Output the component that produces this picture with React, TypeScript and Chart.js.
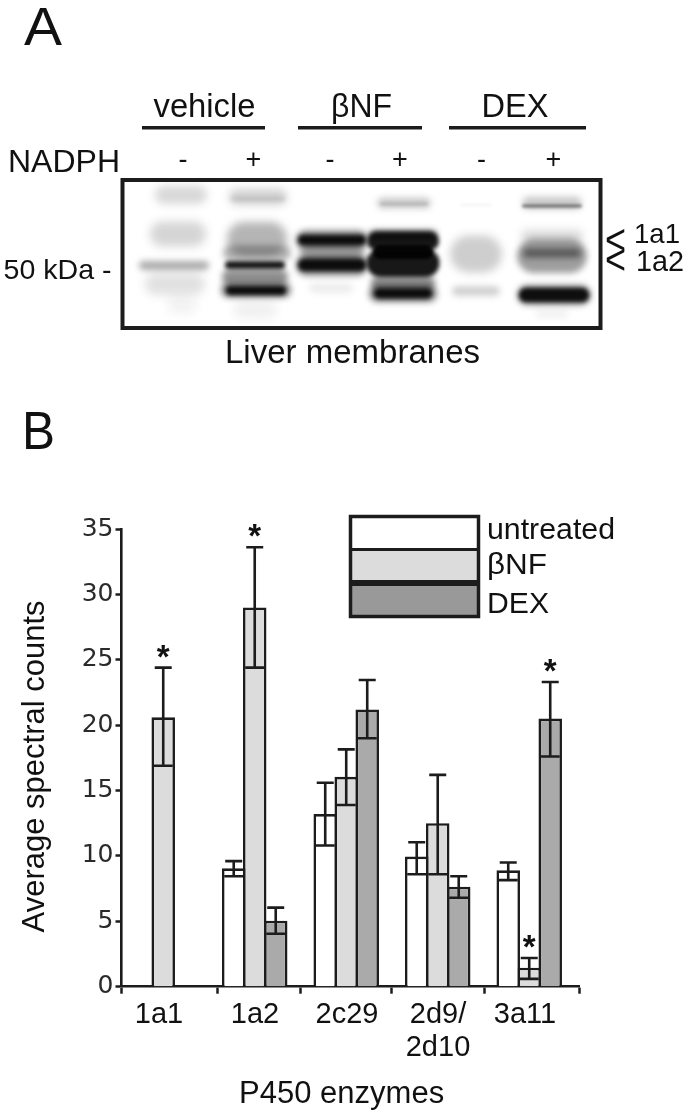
import React, { useEffect, useRef } from "react";
import { Chart, registerables } from "chart.js";

Chart.register(...registerables);

// ---- Panel B data ----
const categories: (string | string[])[] = ["1a1", "1a2", "2c29", ["2d9/", "2d10"], "3a11"];
const groupPositions = [0, 1, 2, 3, 4];
const untreated = [0, 9.05, 13.2, 9.95, 8.9];
const untreatedHigh = [null, 9.6, 15.6, 11.05, 9.5];
const untreatedLow = [null, 8.45, 10.8, 8.6, 8.15];
const bnf = [20.6, 29.0, 16.05, 12.5, 1.45];
const bnfHigh = [24.4, 33.6, 18.15, 16.2, 2.2];
const bnfLow = [16.9, 24.4, 13.9, 8.6, 0.6];
const dex = [0, 5.05, 21.2, 7.65, 20.5];
const dexHigh = [null, 6.05, 23.45, 8.45, 23.3];
const dexLow = [null, 4.05, 19.0, 6.8, 17.6];
const yTicks = [0, 5, 10, 15, 20, 25, 30, 35];
// group boundaries (tick marks) and label centres along the x axis
const xBoundaries = [-0.456, 0.588, 1.495, 2.49, 3.506, 4.544];
const xLabelCentres = [-0.046, 1.003, 2.008, 3.003, 3.954];
// [dataset index, group index] of each significance star
const stars: [number, number][] = [[1, 0], [1, 1], [1, 4], [2, 4]];

// ---- Panel A content ----
const lanes = [183, 253.5, 330, 400, 481.5, 553.5];
const laneSigns = ["-", "+", "-", "+", "-", "+"];
// cx, cy, w, h, alpha, blur of each immunoblot band
const blotBands: number[][] = [
  // vehicle -
  [181, 195, 52, 18, 0.17, 4], [178, 234, 56, 25, 0.18, 5], [174, 265.5, 70, 9, 0.36, 3],
  [175, 284, 60, 22, 0.13, 5], [182, 305, 30, 18, 0.05, 4],
  // vehicle +
  [258, 197, 58, 16, 0.2, 4], [258, 199, 54, 3, 0.15, 2],
  [257, 239, 60, 34, 0.32, 4], [257, 253, 68, 15, 0.32, 3],
  [255, 277, 66, 16, 0.48, 3], [255, 265, 60, 8, 1, 2],
  [256, 290, 70, 15, 0.55, 3], [256, 290.5, 60, 9, 1, 2], [255, 310, 44, 18, 0.06, 4],
  // bNF -
  [332, 252, 64, 18, 0.3, 3], [332, 240, 72, 19, 0.55, 3], [332, 265, 72, 21, 0.55, 3],
  [332, 240, 68, 10, 1, 2], [332, 265, 68, 12, 1, 2], [331, 288, 44, 10, 0.08, 3],
  // bNF +
  [404, 203, 54, 11, 0.22, 3], [404, 204, 48, 3, 0.15, 1.5],
  [403, 283, 64, 16, 0.48, 3], [403, 293.5, 68, 17, 0.55, 3], [403, 293.5, 58, 10, 1, 2],
  [403, 241, 72, 19, 1, 2], [403, 263, 73, 28, 1, 2], [403, 252, 60, 14, 1, 1.5], [403, 235, 68, 10, 0.55, 3],
  // DEX -
  [476, 205, 32, 2, 0.06, 1.5], [476, 254, 52, 37, 0.21, 4], [476, 291, 48, 10, 0.2, 3],
  // DEX +
  [552, 203, 60, 13, 0.22, 3], [552, 206, 60, 3, 0.55, 1.5],
  [552, 236, 62, 12, 0.16, 4], [552, 256, 70, 34, 0.42, 3], [552, 253, 58, 9, 0.5, 3],
  [554, 295, 74, 20, 0.5, 3], [554, 295, 70, 14, 1, 2], [552, 314, 32, 8, 0.06, 3],
];

const INK = "#1c1c1c";
const SANS = '"Liberation Sans", Arial, sans-serif';
const seriesHigh = [untreatedHigh, bnfHigh, dexHigh];
const seriesLow = [untreatedLow, bnfLow, dexLow];
const legendFills = ["#ffffff", "#dcdcdc", "#999999"];

function fitText(ctx: CanvasRenderingContext2D, s: string, left: number, base: number, size: number, width?: number) {
  ctx.save();
  ctx.font = `${size}px ${SANS}`;
  ctx.fillStyle = "#111";
  ctx.textAlign = "left";
  ctx.textBaseline = "alphabetic";
  const m = ctx.measureText(s).width;
  ctx.translate(left, base);
  if (width) ctx.scale(width / m, 1);
  ctx.fillText(s, 0, 0);
  ctx.restore();
}

const panelPlugin = {
  id: "panels",
  beforeDraw(chart: any) {
    const ctx: CanvasRenderingContext2D = chart.ctx;
    ctx.save();
    ctx.fillStyle = "#fff";
    ctx.fillRect(0, 0, chart.width, chart.height);

    fitText(ctx, "A", 24, 45, 53, 38);
    fitText(ctx, "B", 22, 449, 53, 33);

    fitText(ctx, "vehicle", 153.5, 117, 33, 102);
    fitText(ctx, "βNF", 331, 117, 33, 61);
    fitText(ctx, "DEX", 481.5, 117, 33, 67);
    ctx.fillStyle = INK;
    ctx.fillRect(142, 126, 123, 3.5);
    ctx.fillRect(298, 126, 124, 3.5);
    ctx.fillRect(449, 126, 137, 3.5);

    fitText(ctx, "NADPH", 8, 172, 32, 112);
    laneSigns.forEach((s, i) => {
      ctx.save();
      ctx.font = `27px ${SANS}`;
      ctx.fillStyle = "#111";
      ctx.textAlign = "center";
      ctx.textBaseline = "alphabetic";
      ctx.fillText(s, lanes[i], 168);
      ctx.restore();
    });

    // blot
    ctx.save();
    ctx.beginPath();
    ctx.rect(122, 180, 478, 147);
    ctx.clip();
    ctx.globalCompositeOperation = "multiply";
    blotBands.forEach(([cx, cy, w, h, a, b]) => {
      ctx.filter = `blur(${b}px)`;
      ctx.fillStyle = `rgba(24,24,24,${a})`;
      ctx.beginPath();
      ctx.roundRect(cx - w / 2, cy - h / 2, w, h, Math.min(w, h) / 2);
      ctx.fill();
    });
    ctx.restore();
    ctx.filter = "none";

    ctx.strokeStyle = INK;
    ctx.lineWidth = 4;
    ctx.strokeRect(122.5, 180, 478, 148);

    fitText(ctx, "50 kDa -", 3.5, 279, 28.5, 108);
    fitText(ctx, "Liver membranes", 225, 363, 34, 255);
    fitText(ctx, "1a1", 634, 243, 28, 46);
    fitText(ctx, "1a2", 636, 271, 29, 48);
    fitText(ctx, "<", 605, 254, 42, 21);
    fitText(ctx, "<", 605, 274, 42, 21);
    ctx.restore();
  },
  afterDatasetsDraw(chart: any) {
    const ctx: CanvasRenderingContext2D = chart.ctx;
    const y = chart.scales.y;
    ctx.save();
    ctx.strokeStyle = INK;
    ctx.lineWidth = 2.6;
    chart.data.datasets.forEach((_: any, d: number) => {
      const meta = chart.getDatasetMeta(d);
      meta.data.forEach((bar: any, i: number) => {
        const hi = seriesHigh[d][i];
        const lo = seriesLow[d][i];
        if (hi == null || lo == null) return;
        const yh = y.getPixelForValue(hi);
        const yl = y.getPixelForValue(lo);
        ctx.beginPath();
        ctx.moveTo(bar.x, yh);
        ctx.lineTo(bar.x, yl);
        ctx.moveTo(bar.x - 8.5, yh);
        ctx.lineTo(bar.x + 8.5, yh);
        ctx.moveTo(bar.x - 9.5, yl);
        ctx.lineTo(bar.x + 9.5, yl);
        ctx.stroke();
      });
    });
    ctx.fillStyle = "#111";
    ctx.font = `bold 33px ${SANS}`;
    ctx.textAlign = "center";
    ctx.textBaseline = "alphabetic";
    stars.forEach(([d, i]) => {
      const bar = chart.getDatasetMeta(d).data[i];
      ctx.fillText("*", bar.x, y.getPixelForValue(seriesHigh[d][i] as number));
    });

    // legend box
    const lx = 351, lw = 127, rows = [517, 549, 583, 616];
    chart.data.datasets.forEach((ds: any, d: number) => {
      ctx.fillStyle = legendFills[d];
      ctx.fillRect(lx, rows[d], lw, rows[d + 1] - rows[d]);
    });
    ctx.fillStyle = INK;
    ctx.fillRect(lx, 548, lw, 3);
    ctx.fillRect(lx, 580, lw, 6);
    ctx.strokeStyle = INK;
    ctx.lineWidth = 3.5;
    ctx.strokeRect(lx - 0.5, 516.5, lw + 1, 100);
    const labelBases = [539, 574, 613];
    const labelWidths = [128, 60, 62];
    chart.data.datasets.forEach((ds: any, d: number) => {
      fitText(ctx, ds.label, 487, labelBases[d], 30, labelWidths[d]);
    });
    ctx.restore();
  },
};

// Chart.js sizes bars from the smallest gap between ticks, so derive the
// fraction that yields the reference's bar pitch (21 px on a 457.5 px axis).
const allXTicks = [...xBoundaries, ...xLabelCentres].sort((a, b) => a - b);
const minTickGap = Math.min(...allXTicks.slice(1).map((v, i) => v - allXTicks[i]));
const pxPerUnit = 457.5 / (xBoundaries[xBoundaries.length - 1] - xBoundaries[0]);

const barOpts = {
  borderColor: INK,
  borderWidth: 2.6,
  borderSkipped: "bottom" as const,
  categoryPercentage: 63 / (minTickGap * pxPerUnit),
  barPercentage: 1.12,
};

export default function App() {
  const ref = useRef<HTMLCanvasElement>(null);
  useEffect(() => {
    const toPts = (vals: number[]) => vals.map((v, i) => ({ x: groupPositions[i], y: v }));
    const chart = new Chart(ref.current as HTMLCanvasElement, {
      type: "bar",
      data: {
        datasets: [
          { label: "untreated", data: toPts(untreated), backgroundColor: "#ffffff", ...barOpts },
          { label: "βNF", data: toPts(bnf), backgroundColor: "#dcdcdc", ...barOpts },
          { label: "DEX", data: toPts(dex), backgroundColor: "#aaaaaa", ...barOpts },
        ],
      },
      plugins: [panelPlugin],
      options: {
        responsive: false,
        animation: false,
        devicePixelRatio: 1,
        layout: { padding: { top: 529, right: 108, left: 0, bottom: 0 } },
        plugins: { legend: { display: false }, tooltip: { enabled: false } },
        scales: {
          x: {
            type: "linear",
            offset: false,
            min: xBoundaries[0],
            max: xBoundaries[xBoundaries.length - 1],
            afterBuildTicks(scale: any) {
              const vals: number[] = [];
              xBoundaries.forEach((b, i) => {
                vals.push(b);
                if (i < xLabelCentres.length) vals.push(xLabelCentres[i]);
              });
              scale.ticks = vals.map((value) => ({ value }));
            },
            afterFit(scale: any) {
              scale.height = 126.3;
            },
            ticks: {
              autoSkip: false,
              maxRotation: 0,
              minRotation: 0,
              padding: 5,
              color: "#111",
              font: { family: SANS, size: 29, lineHeight: 1.13 },
              callback: (_v: any, i: number) => (i % 2 ? categories[(i - 1) / 2] : ""),
            },
            grid: {
              offset: false,
              drawOnChartArea: false,
              drawTicks: true,
              tickLength: 7,
              tickWidth: 2.5,
              tickColor: (c: any) => (c.index % 2 ? "rgba(0,0,0,0)" : INK),
            },
            border: { color: INK, width: 2.6 },
            title: {
              display: true,
              text: "P450 enzymes  ",
              color: "#111",
              font: { family: SANS, size: 31 },
              padding: { top: 0, bottom: 0 },
            },
          },
          y: {
            type: "linear",
            min: yTicks[0],
            max: yTicks[yTicks.length - 1],
            afterBuildTicks(scale: any) {
              scale.ticks = yTicks.map((value) => ({ value }));
            },
            afterFit(scale: any) {
              scale.width = 121.5;
            },
            ticks: {
              padding: 2,
              color: "#2a2a2a",
              font: { family: '"DejaVu Sans", sans-serif', size: 25 },
            },
            grid: {
              drawOnChartArea: false,
              drawTicks: true,
              tickLength: 6,
              tickWidth: 2.5,
              tickColor: INK,
            },
            border: { color: INK, width: 2.6 },
            title: {
              display: true,
              text: "Average spectral counts  ",
              color: "#111",
              font: { family: SANS, size: 31 },
              padding: { top: 17, bottom: 0 },
            },
          },
        },
      },
    } as any);
    return () => chart.destroy();
  }, []);
  return (
    <div style={{ position: "absolute", left: 0, top: 0, width: 687, height: 1113, overflow: "hidden" }}>
      <canvas ref={ref} width={687} height={1113} style={{ display: "block" }} />
    </div>
  );
}
